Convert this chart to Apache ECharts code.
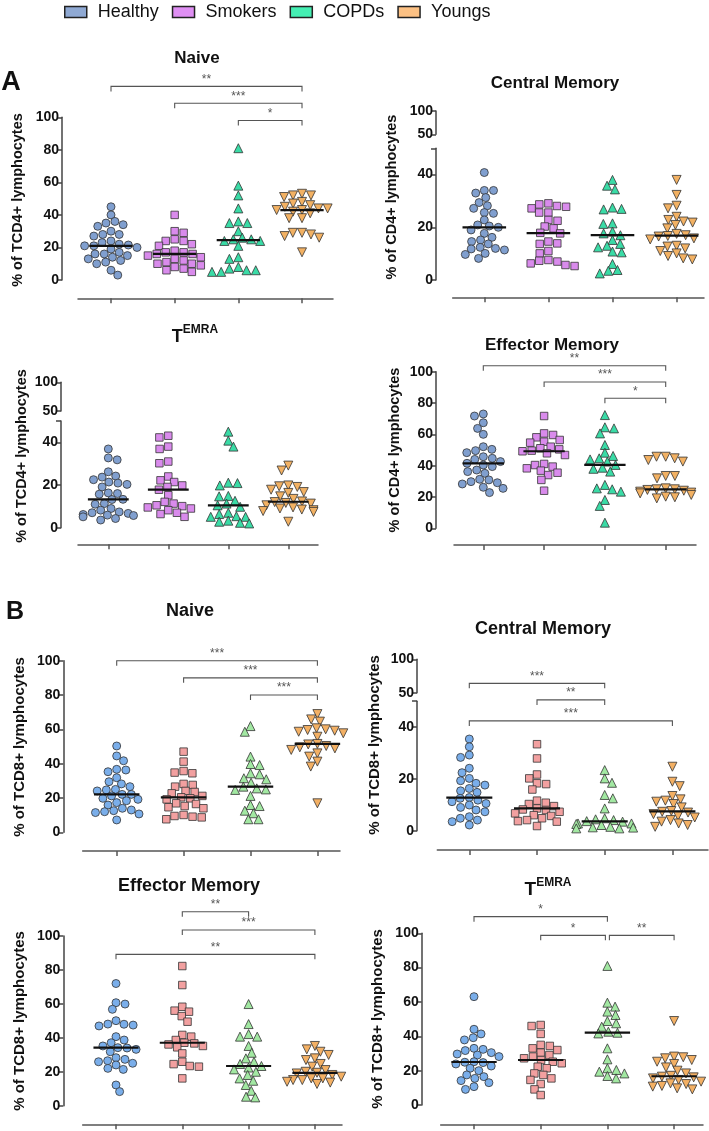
<!DOCTYPE html>
<html><head><meta charset="utf-8">
<script src="https://cdn.jsdelivr.net/npm/echarts@6/dist/echarts.min.js"></script>
<style>html,body{margin:0;padding:0;background:#fff}#c{width:709px;height:1131px}</style>
</head><body><div id="c"></div>
<script>
// ---------------- DATA ----------------
const groups = ['Healthy', 'Smokers', 'COPDs', 'Youngs'];

// A - CD4 Naive
const aNaiveHealthy = [45,40,36,35,34,33,30,28,28,27,24,23,22,21.5,21,21,20,19,17,16,16,15,14,13,12,11,10,6,3];
const aNaiveSmokers = [40,30,29,25,24,24,22,21,18,17,17,16,16,15,14,13,12,11,10,10,9,8,7,6,5];
const aNaiveCOPDs   = [81,58,52,44,36,35,35,30,26,25,25,24,24,21,14,13,8,7,6,6,5,5];
const aNaiveYoungs  = [53,52,52,51,48,47,46,45,44,44,43,43,42,41,38,38,29,29,28,27,26,17];
const aNaiveBrackets = [[0,3,119,'**'],[1,3,108.6,'***'],[2,3,98,'*']];

// A - CD4 Central Memory
const aCMHealthy = [40.8,34,34,33,31.3,29.4,28.2,27.2,25.6,25.3,22.8,20.9,20.5,20,19,17.7,16.2,15.2,14.6,13.7,12.4,12,11.8,11.4,10.1,9.7,8.2];
const aCMSmokers = [29.1,28.7,28.1,27.8,27.2,25.6,25.6,22.8,22.5,20.3,19.6,17.9,17.7,14.6,13.9,13.7,11,10.1,7.6,7.3,7,6.3,5.7,5.3];
const aCMCOPDs   = [38,35.8,34.4,27.5,27,26.8,21.5,21.3,18.4,17.7,17,15.2,13.7,13,12.4,10.8,10.5,6.1,3.8,3.5,2.5];
const aCMYoungs  = [38,32.3,28.2,27.2,24,22.8,22.2,21.8,20.9,19.6,17.5,17,16.7,16.5,15.8,15.4,13,12.7,12,11,10.1,9.1,8.2,7.8];
const aCMBrackets = [];

// A - CD4 TEMRA
const aTemraHealthy = [36.9,32.7,31.8,26.2,24.2,23.7,22.5,21.4,20.9,20.3,19.1,16.3,16,15.7,13.3,13.2,11.3,11,9,8.2,7.4,7,6.7,6.2,5.9,5.7,5.1,4.3,3.6];
const aTemraSmokers = [43.1,42.3,38,36.9,31,30.2,24,22.2,21.4,19.8,19.1,17.8,15.2,12.1,11.3,10.5,10.1,9.5,9,8.2,7,6.4,5.1];
const aTemraCOPDs   = [45,40.8,38,21.1,20.9,19.8,14.9,14.7,12.6,11.3,10.5,9.8,7,6.4,5.4,5.1,5.1,3.3,2.8,2.3,2];
const aTemraYoungs  = [29.1,26.8,19.8,19.4,19.1,17.8,16.7,16.3,14.7,13.5,12.3,12,11.6,11.3,10.5,9.5,9,8.5,8.2,7.8,7.4,2.8];
const aTemraBrackets = [];

// A - CD4 Effector Memory
const aEMHealthy = [73,71.7,67.4,63.8,60,52.1,50.4,49.6,48.3,45.7,44.7,44,42.6,41.5,40.4,39.4,37.2,36.2,35.1,31.3,30.9,29.8,29.1,28.3,26.2,25.5,22.8];
const aEMSmokers = [71.7,60.6,59.6,58.1,56.4,55.3,54.7,52.1,51.1,50.4,49.6,49.2,47.9,46.8,41.1,40.4,39.4,38.3,36.8,35.5,34,30.9,24];
const aEMCOPDs   = [72.3,64.5,63.8,60.6,53.2,48.3,46.2,44.7,44,42.6,40.5,38.7,38,36.2,27.7,25.5,24.9,23.4,18.1,14.3,3.6];
const aEMYoungs  = [45.7,45.7,44.7,43.6,42.6,33.4,33.4,31.9,25.5,24.9,24.9,24.5,24,23.4,22.8,22.3,21.3,20.2,19.8,19.1];
const aEMBrackets = [[0,3,103.8,'**'],[1,3,93.4,'***'],[2,3,83,'*']];

// B - CD8 Naive
const bNaiveHealthy = [50.3,44.5,41.7,36.7,36.3,35.3,31.8,29.5,28.2,26.6,25,24.7,24.1,22.1,22.1,21.2,19.8,19.2,18.4,17.3,15.9,14,13,12.6,12,11.5,10.7,7.2];
const bNaiveSmokers = [47,41.2,35.7,34.8,34.4,28.2,27.6,26.6,24.1,23.5,22.7,21.2,20.4,19.8,19.2,16.9,16.5,15.3,14.6,14,10.1,9.5,9.1,8.7,7.6];
const bNaiveCOPDs   = [61.9,58.6,44.1,39.8,39.2,34.4,33.8,31.5,30.9,28.9,26.6,25.6,25,24.7,21.2,15.9,15.3,12.6,11.1,7.6,7.6];
const bNaiveYoungs  = [68.9,65.8,64.5,60.6,60,59.6,59.2,58.6,57.7,55.7,51.5,51.2,50.3,49.5,48.9,48,46,44.1,41.2,38.3,16.9];
const bNaiveBrackets = [[0,3,100,'***'],[1,3,90,'***'],[2,3,80,'***']];

// B - CD8 Central Memory
const bCMHealthy = [35.4,32.4,29.2,28.3,24.1,22.4,20.2,19.3,18.3,17.6,16.3,15.4,14.8,12.8,12.5,11.8,11.2,10.5,9.9,9,8,7.3,5.4,4.8,4.1,3.5,2.2];
const bCMSmokers = [33.4,27.9,21.7,20.2,18.3,18,15.9,11.6,10.8,10.3,9.5,8.6,8.2,8,7.3,6.7,6,5.7,4.8,4.1,3.7,3.5,1.8];
const bCMCOPDs   = [23.4,20.2,18.5,13.8,12.5,8.6,4.8,4.4,4.1,3.7,3.5,2.8,2.8,2.6,2.2,1.5,1.3,1.2,0.9,0.9];
const bCMYoungs  = [24.7,18.9,17.2,13.4,12.1,11.6,11.2,10.3,9,7.6,7.3,7,6.4,5.7,5.1,4.1,3.5,2.8,2.2,1.5];
const bCMBrackets = [[0,2,56.9,'***'],[1,2,50.5,'**'],[0,3,42.4,'***']];

// B - CD8 Effector Memory
const bEMHealthy = [72,60.7,59.9,56.8,50.1,48.1,48,47.5,47,40.7,38.7,37.1,35.2,34.2,34,33.2,31.8,28.3,27.3,26.5,25.9,25,24,22,21.4,12.2,8.3];
const bEMSmokers = [82.3,71.1,58.3,56,55.4,52.8,49.5,41.7,40.7,38.7,37.1,36.7,36.1,35.2,34.4,30.8,25.9,24.5,23.4,23,16.1];
const bEMCOPDs   = [59.9,48.1,42.2,40.7,40.7,35.2,31.2,27.9,25.9,24.6,23.4,22.5,21.4,20,18.1,16.1,14.7,12.2,8.8,5.3,4.9];
const bEMYoungs  = [35.2,33.2,31.8,29.9,27.9,26.9,24.6,23,21,20,19.4,19,18.1,17.1,16.1,16.1,15.1,15.1,14.1,13.6,12.8];
const bEMBrackets = [[1,2,114.3,'**'],[1,3,103.5,'***'],[0,3,89.2,'**']];

// B - CD8 TEMRA
const bTemraHealthy = [63.1,44.1,41.4,39.2,37.9,33,32.4,31.7,30.5,29.7,29.1,28.2,25.2,24.9,24.7,23.9,22.7,21.4,20,17.5,16.5,15.5,14.2,13,10.7,9.1];
const bTemraSmokers = [46.6,46,41.4,35,34.4,33,32,30.5,29.1,28.2,27.2,26.2,25.2,24.3,22.3,21.4,18.4,17.5,15.5,14.6,12.2,9.1,5.8];
const bTemraCOPDs   = [81,59.6,57.3,54.4,52.4,48.9,47.6,45.6,42.7,42.1,41.7,33,26.6,21.4,20.4,19.4,18.4,16.9,15.5];
const bTemraYoungs  = [48.9,28.2,27.8,27.2,26.2,25.2,23.9,21.9,20,18.4,17,16.5,16.1,15.5,14.6,13.6,12.6,12.2,11.1,10.7,9.7,9.1];
const bTemraBrackets = [[0,2,109.7,'*'],[1,2,98.8,'*'],[2,3,98.8,'**']];

// ---------------- STYLE / LAYOUT ----------------
const FONT = 'Liberation Sans, Arial, Helvetica, sans-serif';
const colorsA = ['#809fcf', '#d98bec', '#3adba6', '#f2b163'];
const colorsB = ['#7aaeea', '#f2a0a0', '#a2e8a2', '#f3b064'];
const legendColors = ['#8fa9d3', '#df8ff3', '#45efb3', '#fcc184'];
const shapes = [
  {symbol: 'circle', size: 8, rot: 0},
  {symbol: 'rect', size: 7.5, rot: 0},
  {symbol: 'triangle', size: 9, rot: 0},
  {symbol: 'triangle', size: 9, rot: 180}
];

const panels = [
  {title: 'Naive', tsize: 17, ylab: '% of TCD4+ lymphocytes', lsize: 14.5, colors: colorsA,
   data: [aNaiveHealthy, aNaiveSmokers, aNaiveCOPDs, aNaiveYoungs], brackets: aNaiveBrackets,
   L: {yAxisX: 62, y0: 280, yTop: 117.3, xl: 78, xr: 333, xAxisY: 298.3, c0: 111, sp: 63.67, tx: 197, ty: 58, lx: 18, ly: 200}},
  {title: 'Central Memory', tsize: 17, ylab: '% of CD4+ lymphocytes', lsize: 14.5, colors: colorsA,
   data: [aCMHealthy, aCMSmokers, aCMCOPDs, aCMYoungs], brackets: aCMBrackets,
   L: {yAxisX: 436, y0: 280, brk: {lowerTop: 148.3, upperBot: 134.3, upperTop: 111}, xl: 452.7, xr: 704, xAxisY: 297.3, c0: 484.3, sp: 64.1, tx: 555, ty: 83, lx: 392, ly: 197}},
  {title: 'TEMRA', tsize: 17, ylab: '% of TCD4+ lymphocytes', lsize: 14.5, colors: colorsA,
   data: [aTemraHealthy, aTemraSmokers, aTemraCOPDs, aTemraYoungs], brackets: aTemraBrackets,
   L: {yAxisX: 61, y0: 527.7, brk: {lowerTop: 421, upperBot: 411, upperTop: 382.3}, xl: 78, xr: 318, xAxisY: 544.3, c0: 108.3, sp: 60, tx: 195, ty: 335, lx: 22, ly: 456}},
  {title: 'Effector Memory', tsize: 17, ylab: '% of CD4+ lymphocytes', lsize: 14.5, colors: colorsA,
   data: [aEMHealthy, aEMSmokers, aEMCOPDs, aEMYoungs], brackets: aEMBrackets,
   L: {yAxisX: 436, y0: 528.3, yTop: 371.7, xl: 454, xr: 696, xAxisY: 545, c0: 483.3, sp: 60.8, tx: 552, ty: 345, lx: 395, ly: 450}},
  {title: 'Naive', tsize: 18, ylab: '% of TCD8+ lymphocytes', lsize: 15, colors: colorsB,
   data: [bNaiveHealthy, bNaiveSmokers, bNaiveCOPDs, bNaiveYoungs], brackets: bNaiveBrackets,
   L: {yAxisX: 63.3, y0: 832.3, yTop: 660.7, xl: 82.7, xr: 340, xAxisY: 851, c0: 116.7, sp: 66.9, tx: 190, ty: 611, lx: 20, ly: 747}},
  {title: 'Central Memory', tsize: 18, ylab: '% of TCD8+ lymphocytes', lsize: 15, colors: colorsB,
   data: [bCMHealthy, bCMSmokers, bCMCOPDs, bCMYoungs], brackets: bCMBrackets,
   L: {yAxisX: 417, y0: 830.7, brk: {lowerTop: 701.2, upperBot: 692.7, upperTop: 659.3}, xl: 437.3, xr: 708, xAxisY: 850, c0: 469.3, sp: 67.7, tx: 543, ty: 629, lx: 375, ly: 745}},
  {title: 'Effector Memory', tsize: 18, ylab: '% of TCD8+ lymphocytes', lsize: 15, colors: colorsB,
   data: [bEMHealthy, bEMSmokers, bEMCOPDs, bEMYoungs], brackets: bEMBrackets,
   L: {yAxisX: 63.3, y0: 1105.7, yTop: 936, xl: 82.7, xr: 342, xAxisY: 1124.3, c0: 116, sp: 66.3, tx: 189, ty: 886, lx: 20, ly: 1021}},
  {title: 'TEMRA', tsize: 18, ylab: '% of TCD8+ lymphocytes', lsize: 15, colors: colorsB,
   data: [bTemraHealthy, bTemraSmokers, bTemraCOPDs, bTemraYoungs], brackets: bTemraBrackets,
   L: {yAxisX: 421.7, y0: 1105, yTop: 933.3, xl: 440.7, xr: 703, xAxisY: 1124.3, c0: 474, sp: 66.7, tx: 548, ty: 888, lx: 378, ly: 1019}}
];

// ---------------- HELPERS ----------------
function median(arr) {
  const s = arr.slice().sort((a, b) => a - b);
  const n = s.length;
  return n % 2 ? s[(n - 1) / 2] : (s[n / 2 - 1] + s[n / 2]) / 2;
}
// beeswarm offsets (px) from values and the vertical pixel scale (elliptical collision)
function swarm(values, pxPerUnit, Dx, Dy, maxHalf) {
  const order = values.map((v, i) => i).sort((a, b) => values[b] - values[a]);
  const placed = [];
  const out = new Array(values.length).fill(0);
  let flip = 1;
  order.forEach(i => {
    const y = values[i] * pxPerUnit;
    const near = placed.filter(p => Math.abs(p.y - y) < Dy);
    const cands = [0];
    near.forEach(p => {
      const r = (p.y - y) / Dy;
      const dx = Dx * Math.sqrt(1 - r * r);
      cands.push(p.x + dx, p.x - dx);
    });
    cands.sort((a, b) => (Math.abs(a) - Math.abs(b)) || (flip * (b - a)));
    let best = null;
    for (const c of cands) {
      if (near.every(p => Math.pow((p.x - c) / Dx, 2) + Math.pow((p.y - y) / Dy, 2) >= 1 - 1e-6)) { best = c; break; }
    }
    if (best === null) best = 0;
    best = Math.max(-maxHalf, Math.min(maxHalf, best));
    flip = -flip;
    placed.push({x: best, y});
    out[i] = best;
  });
  return out;
}

// ---------------- OPTION ----------------
const option = {
  animation: false,
  backgroundColor: '#fff',
  textStyle: {fontFamily: FONT},
  grid: [], xAxis: [], yAxis: [], series: [], graphic: [],
  legend: {
    data: groups.map((g, i) => ({name: g, itemStyle: {color: legendColors[i]}})),
    left: 64, top: 3, padding: 0, icon: 'rect', itemWidth: 22, itemHeight: 11, itemGap: 13,
    selectedMode: false,
    itemStyle: {borderColor: '#222', borderWidth: 1.5},
    textStyle: {fontSize: 18, fontFamily: FONT, color: '#111', padding: [0, 0, 0, 6]}
  }
};

const axisLineStyle = {color: '#444', width: 1.5};

panels.forEach((p, pi) => {
  const L = p.L;
  const main = option.grid.length;
  const width = L.xr - L.xl;
  const lowerTop = L.brk ? L.brk.lowerTop : L.yTop;
  const ymax = L.brk ? 50 : 100;
  const xmin = (L.xl - L.c0) / L.sp, xmax = (L.xr - L.c0) / L.sp;
  const yOff = L.xl - L.yAxisX;
  option.grid.push({left: L.xl, top: lowerTop, width: width, height: L.y0 - lowerTop, outerBoundsMode: 'none'});
  option.xAxis.push({
    gridIndex: main, type: 'value', min: xmin, max: xmax, offset: L.xAxisY - L.y0,
    axisLine: {show: true, onZero: false, lineStyle: {color: '#555', width: 1.5}},
    axisTick: {show: true, customValues: [0, 1, 2, 3], length: 5, lineStyle: {color: '#555', width: 1.5}},
    axisLabel: {show: false}, splitLine: {show: false}
  });
  option.yAxis.push({
    gridIndex: main, type: 'value', min: 0, max: ymax, interval: 20, offset: yOff,
    axisLine: {show: true, onZero: false, lineStyle: axisLineStyle},
    axisTick: {show: true, length: 5, lineStyle: axisLineStyle},
    axisLabel: {fontSize: 14, fontWeight: 'bold', color: '#111', margin: 3, fontFamily: FONT,
      formatter: v => (v % 20 === 0 ? String(v) : '')},
    splitLine: {show: false}
  });
  if (L.brk) {
    const up = option.grid.length;
    option.grid.push({left: L.xl, top: L.brk.upperTop, width: width, height: L.brk.upperBot - L.brk.upperTop, outerBoundsMode: 'none'});
    option.xAxis.push({gridIndex: up, type: 'value', min: xmin, max: xmax, show: false});
    option.yAxis.push({
      gridIndex: up, type: 'value', min: 50, max: 100, interval: 50, offset: yOff,
      axisLine: {show: true, onZero: false, lineStyle: axisLineStyle},
      axisTick: {show: true, length: 5, lineStyle: axisLineStyle},
      axisLabel: {fontSize: 14, fontWeight: 'bold', color: '#111', margin: 3, fontFamily: FONT},
      splitLine: {show: false}
    });
  }
  const pxPerUnit = (L.y0 - lowerTop) / ymax;
  // points
  p.data.forEach((vals, g) => {
    const offs = swarm(vals, pxPerUnit, 9.2, 7.2, 0.42 * L.sp);
    const sh = shapes[g];
    option.series.push({
      type: 'scatter', name: groups[g], xAxisIndex: main, yAxisIndex: main,
      data: vals.map((v, i) => [g + offs[i] / L.sp, v]),
      symbol: sh.symbol, symbolSize: sh.size, symbolRotate: sh.rot,
      itemStyle: {color: p.colors[g], borderColor: '#333', borderWidth: 0.8, opacity: 1},
      emphasis: {disabled: true}, clip: false, z: 3
    });
  });
  // median lines
  option.series.push({
    type: 'custom', xAxisIndex: main, yAxisIndex: main, clip: false, z: 6, silent: true,
    data: p.data.map((vals, g) => [g, median(vals)]),
    renderItem: (params, api) => {
      const g = api.value(0), m = api.value(1);
      const a = api.coord([g - 0.34, m]), b = api.coord([g + 0.34, m]);
      return {type: 'line', shape: {x1: a[0], y1: a[1], x2: b[0], y2: b[1]}, style: {stroke: '#111', lineWidth: 2.2}};
    }
  });
  // significance brackets
  if (p.brackets.length) {
    const br = p.brackets;
    option.series.push({
      type: 'custom', xAxisIndex: main, yAxisIndex: main, clip: false, z: 4, silent: true,
      data: br.map(b => [b[0], b[1], b[2]]),
      renderItem: (params, api) => {
        const b = br[params.dataIndex];
        const a = api.coord([b[0], b[2]]), c = api.coord([b[1], b[2]]);
        let x1 = a[0], x2 = c[0];
        br.forEach((o, j) => {
          if (j === params.dataIndex || o[2] !== b[2]) return;
          if (o[1] === b[0]) x1 += 2;
          if (o[0] === b[1]) x2 -= 2;
        });
        const y = a[1];
        return {type: 'group', children: [
          {type: 'polyline', shape: {points: [[x1, y + 5], [x1, y], [x2, y], [x2, y + 5]]},
           style: {stroke: '#555', lineWidth: 1.1, fill: null}},
          {type: 'text', x: (x1 + x2) / 2, y: y - 1,
           style: {text: b[3], align: 'center', verticalAlign: 'bottom', font: '12px ' + FONT, fill: '#555'}}
        ]};
      }
    });
  }
  // title
  if (p.title === 'TEMRA') {
    option.graphic.push({type: 'text', x: L.tx, y: L.ty, z: 10,
      style: {text: '{t|T}{s|EMRA}', align: 'center', verticalAlign: 'middle',
        rich: {t: {fontSize: p.tsize + 1, fontWeight: 'bold', fontFamily: FONT, fill: '#111', lineHeight: 22, verticalAlign: 'bottom'},
               s: {fontSize: 12, fontWeight: 'bold', fontFamily: FONT, fill: '#111', lineHeight: 12, verticalAlign: 'top'}}}});
  } else {
    option.graphic.push({type: 'text', x: L.tx, y: L.ty, z: 10,
      style: {text: p.title, align: 'center', verticalAlign: 'middle', font: 'bold ' + p.tsize + 'px ' + FONT, fill: '#111'}});
  }
  // y-axis label
  option.graphic.push({type: 'text', x: L.lx, y: L.ly, rotation: Math.PI / 2, z: 10,
    style: {text: p.ylab, align: 'center', verticalAlign: 'middle', font: 'bold ' + p.lsize + 'px ' + FONT, fill: '#111'}});
});

// panel letters
option.graphic.push({type: 'text', x: 11, y: 83, z: 10,
  style: {text: 'A', align: 'center', verticalAlign: 'middle', font: 'bold 27px ' + FONT, fill: '#111'}});
option.graphic.push({type: 'text', x: 15, y: 612, z: 10,
  style: {text: 'B', align: 'center', verticalAlign: 'middle', font: 'bold 25px ' + FONT, fill: '#111'}});

const chart = echarts.init(document.getElementById('c'), null, {renderer: 'canvas'});
chart.setOption(option);
</script>
</body></html>
